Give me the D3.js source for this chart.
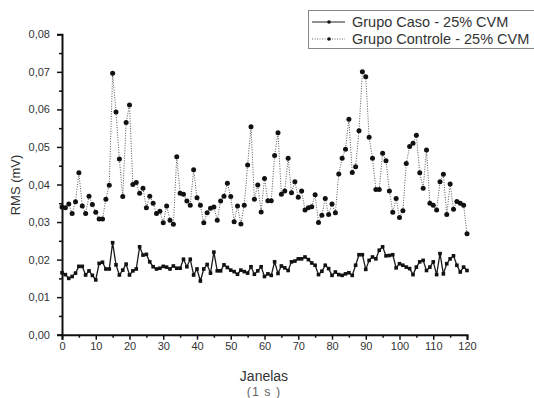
<!DOCTYPE html>
<html><head><meta charset="utf-8">
<script src="https://cdn.jsdelivr.net/npm/d3@7"></script>
<style>body{margin:0;background:#fff;}svg{display:block;font-family:"Liberation Sans",Arial,sans-serif;}</style>
</head><body>
<svg id="c" width="534" height="398"></svg>
<script>
const windows = d3.range(0, 121);
const seriesNames = ["Grupo Caso - 25% CVM", "Grupo Controle - 25% CVM"];
const casoValues = [
0.0165,0.0160,0.0150,0.0155,0.0164,0.0182,0.0182,0.0159,0.0170,0.0158,
0.0146,0.0190,0.0193,0.0175,0.0175,0.0245,0.0186,0.0159,0.0172,0.0188,
0.0159,0.0170,0.0175,0.0234,0.0212,0.0214,0.0194,0.0181,0.0175,0.0177,
0.0182,0.0180,0.0175,0.0183,0.0177,0.0177,0.0201,0.0181,0.0201,0.0159,
0.0175,0.0143,0.0175,0.0187,0.0164,0.0220,0.0170,0.0170,0.0186,0.0179,
0.0172,0.0168,0.0161,0.0172,0.0168,0.0164,0.0181,0.0161,0.0170,0.0181,
0.0155,0.0162,0.0158,0.0194,0.0163,0.0183,0.0178,0.0171,0.0194,0.0196,
0.0202,0.0202,0.0207,0.0200,0.0191,0.0185,0.0160,0.0169,0.0185,0.0176,
0.0158,0.0167,0.0160,0.0158,0.0162,0.0165,0.0158,0.0185,0.0213,0.0213,
0.0174,0.0198,0.0207,0.0202,0.0225,0.0234,0.0210,0.0211,0.0213,0.0178,
0.0189,0.0185,0.0180,0.0176,0.0160,0.0180,0.0194,0.0198,0.0171,0.0180,
0.0194,0.0160,0.0216,0.0162,0.0189,0.0202,0.0210,0.0185,0.0167,0.0180,
0.0171];
const controleValues = [
0.0340,0.0338,0.0348,0.0323,0.0354,0.0431,0.0343,0.0323,0.0369,0.0347,
0.0326,0.0308,0.0308,0.0361,0.0398,0.0696,0.0593,0.0468,0.0368,0.0565,
0.0612,0.0400,0.0405,0.0377,0.0390,0.0338,0.0369,0.0350,0.0323,0.0329,
0.0298,0.0343,0.0305,0.0294,0.0474,0.0377,0.0374,0.0356,0.0345,0.0439,
0.0365,0.0345,0.0298,0.0325,0.0337,0.0340,0.0305,0.0356,0.0369,0.0403,
0.0368,0.0301,0.0343,0.0295,0.0345,0.0452,0.0554,0.0361,0.0399,0.0327,
0.0416,0.0357,0.0357,0.0477,0.0538,0.0374,0.0383,0.0470,0.0378,0.0407,
0.0366,0.0383,0.0332,0.0338,0.0341,0.0373,0.0299,0.0318,0.0363,0.0320,
0.0348,0.0325,0.0428,0.0470,0.0494,0.0574,0.0432,0.0447,0.0543,0.0700,
0.0687,0.0526,0.0470,0.0387,0.0387,0.0483,0.0463,0.0383,0.0326,0.0363,
0.0312,0.0330,0.0456,0.0501,0.0510,0.0531,0.0431,0.0390,0.0492,0.0350,
0.0345,0.0332,0.0407,0.0427,0.0320,0.0401,0.0334,0.0355,0.0350,0.0345,
0.0269];
const xTicks = d3.range(0, 121, 10);
const xMinor = d3.range(5, 121, 10);
const yTicks = [0, 0.01, 0.02, 0.03, 0.04, 0.05, 0.06, 0.07, 0.08];
const yMinor = [0.005, 0.015, 0.025, 0.035, 0.045, 0.055, 0.065, 0.075];

const svg = d3.select("#c");
const x = d3.scaleLinear().domain([0, 120]).range([62, 467]);
const y = d3.scaleLinear().domain([0, 0.08]).range([334.7, 34.3]);
const fmt = d => d3.format(".2f")(d).replace(".", ",");
const txt = "#333";

const ctl = windows.map((w, i) => [w, controleValues[i]]);
const cas = windows.map((w, i) => [w, casoValues[i]]);
const line = d3.line().x(d => x(d[0])).y(d => y(d[1]));
svg.append("path").attr("d", line(ctl)).attr("fill", "none")
  .attr("stroke", "#555").attr("stroke-width", 1).attr("stroke-dasharray", "1,1.5");
svg.append("g").selectAll("circle").data(ctl).join("circle")
  .attr("cx", d => x(d[0])).attr("cy", d => y(d[1])).attr("r", 2.5).attr("fill", "#111");

svg.append("path").attr("d", line(cas)).attr("fill", "none")
  .attr("stroke", "#1a1a1a").attr("stroke-width", 1.3);
svg.append("g").selectAll("rect").data(cas).join("rect")
  .attr("x", d => x(d[0]) - 1.8).attr("y", d => y(d[1]) - 1.8)
  .attr("width", 3.6).attr("height", 3.6).attr("fill", "#111");

svg.append("g").attr("transform", "translate(62,0)")
  .call(d3.axisLeft(y).tickValues(yTicks).tickFormat(fmt).tickSize(5).tickPadding(7));
svg.append("g").attr("transform", "translate(62,0)")
  .call(d3.axisLeft(y).tickValues(yMinor).tickFormat("").tickSize(3))
  .select(".domain").remove();
svg.append("g").attr("transform", "translate(0,334.7)")
  .call(d3.axisBottom(x).tickValues(xTicks).tickFormat(d3.format("d")).tickSize(5).tickPadding(3));
svg.append("g").attr("transform", "translate(0,334.7)")
  .call(d3.axisBottom(x).tickValues(xMinor).tickFormat("").tickSize(3))
  .select(".domain").remove();
svg.selectAll(".domain").attr("stroke", "#111").attr("stroke-width", 2);
svg.selectAll(".tick line").attr("stroke", "#111").attr("stroke-width", 1.5);
svg.selectAll(".tick text").attr("fill", txt).style("font-size", "11px")
  .style("font-family", "'Liberation Sans', Arial, sans-serif");

svg.append("text").attr("x", 264).attr("y", 381).attr("text-anchor", "middle")
  .attr("fill", txt).style("font-size", "14px").text("Janelas");
svg.append("text").attr("x", 264).attr("y", 396).attr("text-anchor", "middle")
  .attr("fill", "#666").style("font-size", "12.5px").style("letter-spacing", "1px").text("(1 s )");
svg.append("text").attr("transform", "translate(20,185) rotate(-90)").attr("text-anchor", "middle")
  .attr("fill", txt).style("font-size", "13px").text("RMS (mV)");

const lg = svg.append("g");
lg.append("rect").attr("x", 308.5).attr("y", 10.5).attr("width", 240).attr("height", 38)
  .attr("fill", "#fff").attr("stroke", "#888").attr("stroke-width", 1);
const rows = [{n: seriesNames[0], dash: null, yy: 22}, {n: seriesNames[1], dash: "1,1.5", yy: 39}];
rows.forEach(r => {
  lg.append("line").attr("x1", 312).attr("x2", 345).attr("y1", r.yy).attr("y2", r.yy)
    .attr("stroke", r.dash ? "#666" : "#222").attr("stroke-width", 1)
    .attr("stroke-dasharray", r.dash);
  lg.append("circle").attr("cx", 329).attr("cy", r.yy).attr("r", 1.8).attr("fill", "#111");
  lg.append("text").attr("x", 352).attr("y", r.yy + 5).attr("fill", txt)
    .style("font-size", "14.5px").text(r.n);
});
</script>
</body></html>
